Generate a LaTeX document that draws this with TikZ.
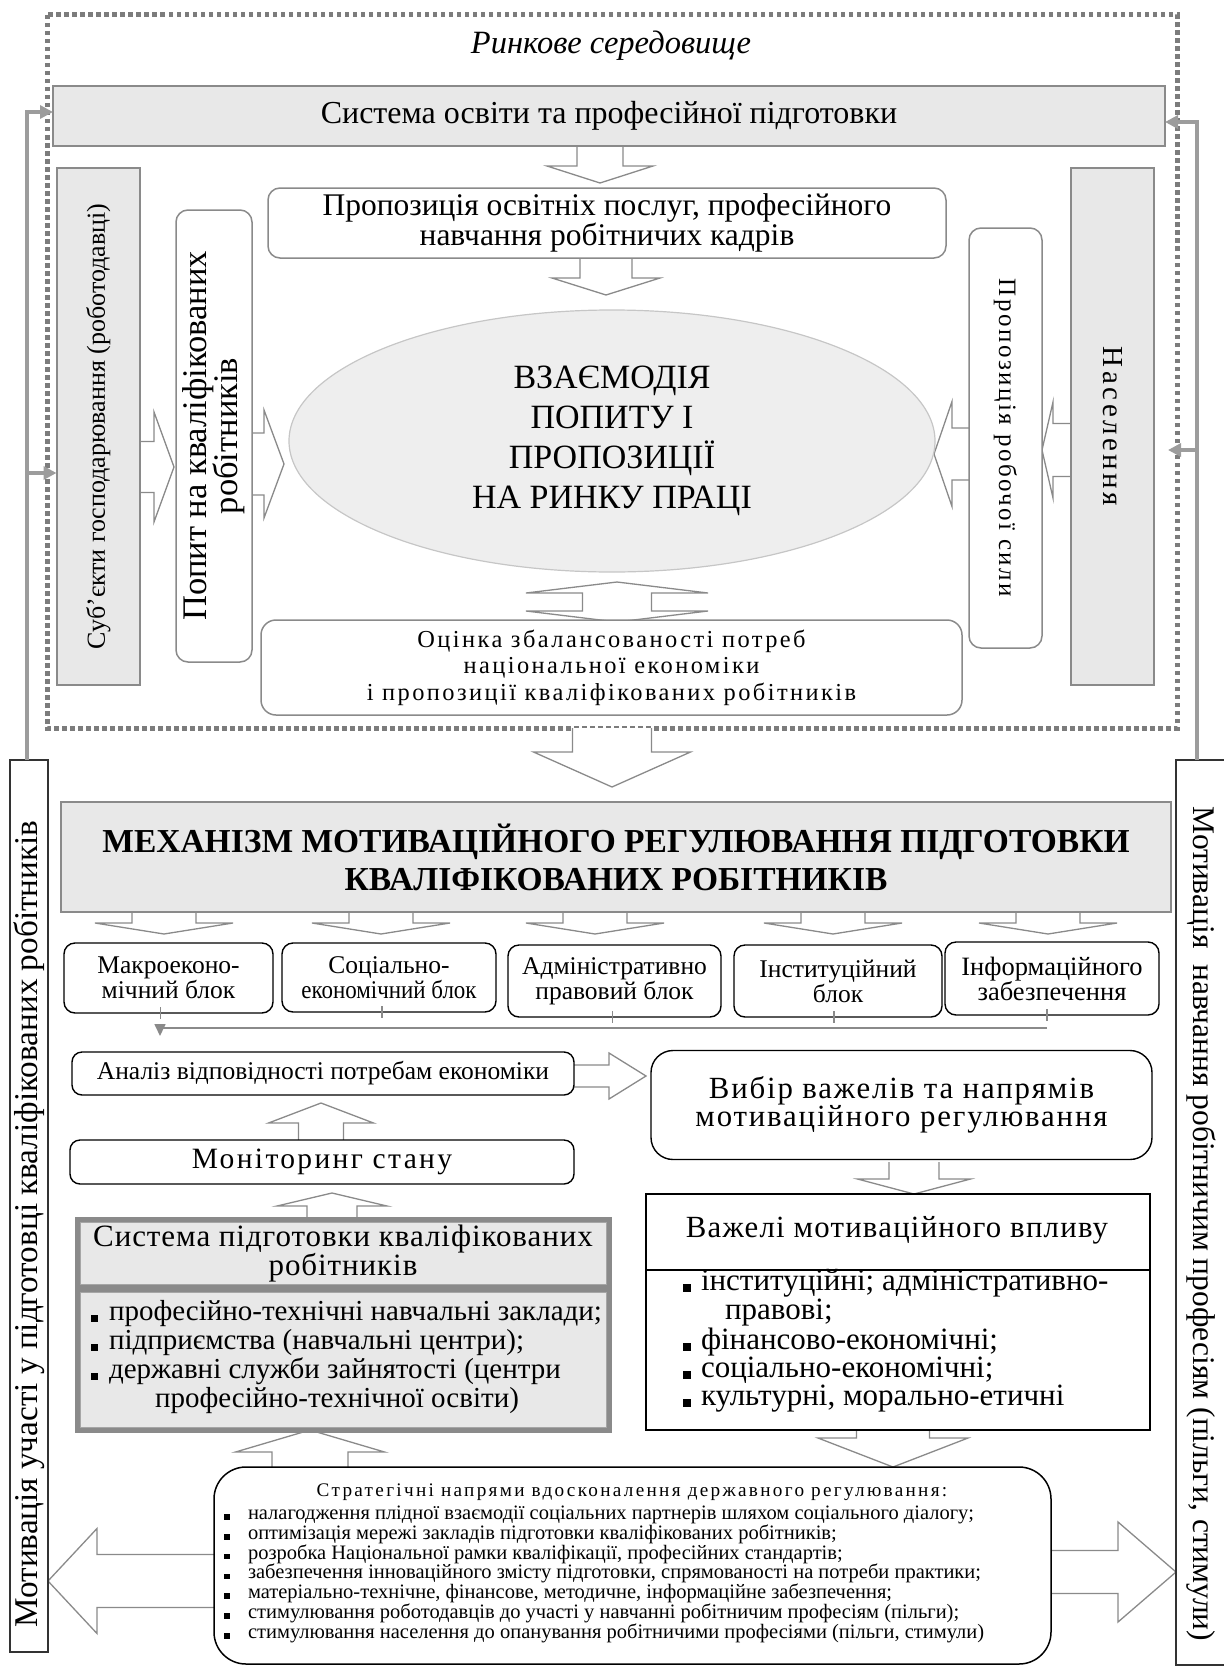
\documentclass[tikz,border=0pt]{standalone}
\usepackage{fontspec}
\setmainfont{Liberation Serif}
\newfontfamily\condfont[FakeStretch=0.9]{Liberation Serif}
\usetikzlibrary{arrows.meta,shapes.geometric,calc}

\definecolor{frameg}{HTML}{8A8A8A}
\definecolor{fillg}{HTML}{E8E8E8}
\definecolor{linkg}{HTML}{9C9C9C}
\definecolor{dotg}{HTML}{7C7C7C}
\definecolor{ellg}{HTML}{EEEEEE}

\newcommand\fsz[2]{\fontsize{#1}{#2}\selectfont\lineskiplimit=-100pt\relax}
\newcommand\lsp[1]{\addfontfeatures{LetterSpace=#1}}

% vertical block arrow: centre x, shaft start y, head base y, tip y, shaft half width, head half width
\newcommand\blockV[6]{%
  \path[hollow] ({#1-#5},#2) -- ({#1-#5},#3) -- ({#1-#6},#3) -- (#1,#4)
    -- ({#1+#6},#3) -- ({#1+#5},#3) -- ({#1+#5},#2);}
% horizontal block arrow: centre y, shaft start x, head base x, tip x, shaft half width, head half width
\newcommand\blockH[6]{%
  \path[hollow] (#2,{#1-#5}) -- (#3,{#1-#5}) -- (#3,{#1-#6}) -- (#4,#1)
    -- (#3,{#1+#6}) -- (#3,{#1+#5}) -- (#2,{#1+#5});}
\newcommand\sqbullet[3]{\fill ({#1-#3},{#2-#3}) rectangle ({#1+#3},{#2+#3});}

\begin{document}
\begin{tikzpicture}[x=1pt,y=-1pt,
  every node/.style={inner sep=0pt, outer sep=0pt},
  hollow/.style={draw=frameg, fill=white, line width=1.3pt, line join=miter},
  graybox/.style={draw=frameg, fill=fillg, line width=2pt},
  roundg/.style={draw=frameg, fill=white, line width=1.5pt, rounded corners=12pt},
  roundk/.style={draw=black, fill=white, line width=1.4pt, rounded corners=11pt},
  link/.style={draw=linkg, line width=3.5pt, line join=miter},
  linktip/.style={-{Triangle[length=13pt,width=13pt]}},
  thinlink/.style={draw=frameg, line width=1.6pt},
  ltext/.style={anchor=west, text height=0.62em, text depth=0.14em}]
\useasboundingbox (0,0) rectangle (1223,1667);

% market environment frame
\draw[dotg, line width=5pt, dash pattern=on 4.5pt off 3.5pt] (47,15) rectangle (1177,728);
\node[font=\fsz{32.5}{34}\itshape] (market) at (611,46) {Ринкове середовище};

% hollow block arrows
\blockV{600}{146}{166}{183}{23}{53}
\blockV{606}{258}{278}{295}{26}{54}
\blockH{467}{140}{154}{174}{25.5}{55}
\blockH{464}{252}{264}{284}{31}{54}
\blockH{454}{969}{952}{934}{26}{52.5}
\blockH{450}{1071}{1053}{1042}{26.5}{48}
\path[hollow] (617,582) -- ({617+91},593) -- ({617+34.5},593) -- ({617+34.5},611)
  -- ({617+91},611) -- (617,622) -- ({617-91},611) -- ({617-34.5},611)
  -- ({617-34.5},593) -- ({617-91},593) -- cycle;
\blockV{612}{728}{752}{787}{39.5}{78.5}
\foreach \cx in {164,381,595,833,1048} {\blockV{\cx}{912}{923}{934}{32}{69}}
\blockH{1076}{574}{609}{646}{11}{23}
\blockV{321}{1140}{1123}{1103}{22.5}{52.5}
\blockV{332}{1217}{1206}{1193}{25}{55}
\blockV{914}{1162}{1179}{1194}{25}{56.5}
\blockV{310}{1467}{1452}{1430}{38}{74.5}
\blockV{893}{1430}{1438}{1467}{36.5}{75}
\blockH{1581}{214}{97}{48}{26.5}{52.5}
\blockH{1572}{1051}{1118}{1176}{21.5}{50}

% upper part: market
\node[graybox, minimum width=1112, minimum height=60, font=\fsz{32}{34}] (sys) at (609,116)
  {Система освіти та професійної підготовки};
\node[graybox, rotate=90, minimum width=517, minimum height=83.5, font=\fsz{26}{28}] (subj) at (98.25,426.5)
  {Суб’єкти господарювання (роботодавці)};
\node[roundg, rotate=90, minimum width=452, minimum height=76, align=center, font=\fsz{34.5}{31}] (dem) at (214,436)
  {Попит на кваліфікованих\\робітників};
\node[roundg, minimum width=678, minimum height=70, align=center, font=\fsz{31.5}{30}] (edu) at (607,223)
  {Пропозиція освітніх послуг, професійного\\навчання робітничих кадрів};
\node[ellipse, draw=gray!45, fill=ellg, line width=1.2pt, minimum width=646, minimum height=262,
  align=center, font=\fsz{34}{40}] (ell) at (612,441)
  {ВЗАЄМОДІЯ\\ПОПИТУ І\\ПРОПОЗИЦІЇ\\НА РИНКУ ПРАЦІ};
\node[roundg, rotate=-90, minimum width=420, minimum height=73, font=\fsz{25}{28}\lsp{10}] (sup) at (1005.5,438)
  {Пропозиція робочої сили};
\node[graybox, rotate=-90, minimum width=517, minimum height=83, font=\fsz{29}{30}\lsp{12}] (pop) at (1112.5,426.5)
  {Населення};
\node[roundg, rounded corners=15pt, minimum width=701, minimum height=95, align=center,
  font=\fsz{24.4}{26.5}\lsp{10}] (bal) at (611.5,667.5)
  {Оцінка збалансованості потреб\\національної економіки\\і пропозиції кваліфікованих робітників};

% mechanism
\node[draw=frameg, fill=fillg, line width=2.5pt, minimum width=1110, minimum height=110, align=center,
  font=\fsz{33.5}{38}\bfseries] (mech) at (616,857)
  {МЕХАНІЗМ МОТИВАЦІЙНОГО РЕГУЛЮВАННЯ ПІДГОТОВКИ\\КВАЛІФІКОВАНИХ РОБІТНИКІВ};

\node[roundk, minimum width=209, minimum height=70, align=center, font=\fsz{25.5}{25}] (b1) at (168.5,978)
  {Макроеконо-\\мічний блок};
\node[roundk, minimum width=214, minimum height=69, align=center, font=\fsz{25.5}{25}] (b2) at (389,977.5)
  {Соціально-\\{\condfont економічний блок}};
\node[roundk, minimum width=213, minimum height=72, align=center, font=\fsz{25.5}{25}] (b3) at (614.5,981)
  {Адміністративно\\правовий блок};
\node[roundk, minimum width=208, minimum height=72, align=center, font=\fsz{25.5}{25}] (b4) at (838,981)
  {Інституційний\\блок};
\node[roundk, minimum width=214, minimum height=73, align=center, font=\fsz{26.5}{25}] (b5) at (1052,978.5)
  {Інформаційного\\забезпечення};

% collecting line under the blocks
\coordinate (h1) at (160,1028);
\coordinate (h5) at (1047,1028);
\foreach \b/\dx in {b1/-8,b2/-7,b3/-2,b4/-4,b5/-5}
  {\draw[thinlink] ($(\b.south)+(\dx,-6)$) -- ++(0,12);}
\draw[thinlink] (h5) -- (h1);
\draw[thinlink, -{Triangle[length=12pt,width=11pt]}] (h1) ++(0,-4) -- ++(0,12);

% left column
\node[roundk, rounded corners=10pt, minimum width=502, minimum height=43, font=\fsz{25.5}{28}] (anal) at (323,1073.5)
  {Аналіз відповідності потребам економіки};
\node[roundk, rounded corners=10pt, minimum width=504, minimum height=44, font=\fsz{29.5}{30}\lsp{8}] (mon) at (322,1162)
  {Моніторинг стану};
\node[draw=frameg, fill=frameg, minimum width=536, minimum height=215] (trn) at (343,1324.5) {};
\node[draw=gray!70, fill=fillg, line width=0.8pt, minimum width=526, minimum height=62, align=center,
  font=\fsz{31}{28.5}\lsp{3}] (trnh) at (343,1253.5)
  {Система підготовки кваліфікованих\\робітників};
\node[draw=gray!70, fill=fillg, line width=0.8pt, minimum width=526, minimum height=135] (trnl) at (343,1359.5) {};
\sqbullet{94}{1318}{3.5}
\node[ltext, font=\fsz{29}{29}] (t1) at (109,1318) {професійно-технічні навчальні заклади;};
\sqbullet{94}{1347}{3.5}
\node[ltext, font=\fsz{29}{29}] (t2) at (109,1347) {підприємства (навчальні центри);};
\sqbullet{94}{1376}{3.5}
\node[ltext, font=\fsz{29}{29}] (t3) at (109,1376) {державні служби зайнятості (центри};
\node[ltext, anchor=center, font=\fsz{29}{29}] (t4) at (337,1405) {професійно-технічної освіти)};

% right column
\node[roundk, rounded corners=22pt, minimum width=501, minimum height=109, align=center,
  font=\fsz{30.8}{28}\lsp{6}] (vyb) at (901.5,1105)
  {Вибір важелів та напрямів\\мотиваційного регулювання};
\node[draw=black, line width=1.6pt, minimum width=504, minimum height=236] (lev) at (898,1312) {};
\coordinate (levdiv) at (0,1270);
\draw[black, line width=1.6pt] (lev.west |- levdiv) -- (lev.east |- levdiv);
\node[font=\fsz{30.8}{30}\lsp{4}] (levt) at (897,1230) {Важелі мотиваційного впливу};
\sqbullet{687}{1288}{4}
\node[ltext, font=\fsz{31}{32}] (l1) at (701,1288) {інституційні; адміністративно-};
\node[ltext, font=\fsz{31}{32}] (l1b) at (725,1317) {правові;};
\sqbullet{687}{1347}{4}
\node[ltext, font=\fsz{31}{32}] (l2) at (701,1347) {фінансово-економічні;};
\sqbullet{687}{1375}{4}
\node[ltext, font=\fsz{31}{32}] (l3) at (701,1375) {соціально-економічні;};
\sqbullet{687}{1403}{4}
\node[ltext, font=\fsz{31}{32}] (l4) at (701,1403) {культурні, морально-етичні};

% strategic directions
\node[draw=black, fill=white, line width=1.5pt, rounded corners=32pt, minimum width=837, minimum height=197] (strat) at (632.5,1565.5) {};
\node[font=\fsz{19.2}{20}\lsp{12}] (stratt) at (632,1492) {Стратегічні напрями вдосконалення державного регулювання:};
\foreach \t [count=\i from 0] in {
  {налагодження плідної взаємодії соціальних партнерів шляхом соціального діалогу;},
  {оптимізація мережі закладів підготовки кваліфікованих робітників;},
  {розробка Національної рамки кваліфікації, професійних стандартів;},
  {забезпечення інноваційного змісту підготовки, спрямованості на потреби практики;},
  {матеріально-технічне, фінансове, методичне, інформаційне забезпечення;},
  {стимулювання роботодавців до участі у навчанні робітничим професіям (пільги);},
  {стимулювання населення до опанування робітничими професіями (пільги, стимули)}} {
  \sqbullet{227}{1517+19.8*\i}{2.8}
  \node[ltext, font=\fsz{20.5}{20}] (s\i) at (248,{1517+19.8*\i}) {\t};
}

% outer motivation boxes
\node[draw=black!80, line width=1.3pt, minimum width=38, minimum height=892] (outl) at (29,1206) {};
\node[rotate=90, font=\fsz{33.2}{33}] (outlt) at (29,1224) {Мотивація участі у підготовці кваліфікованих робітників};
\node[draw=black!80, line width=1.3pt, minimum width=64, minimum height=905] (outr) at (1208,1212.5) {};
\node[rotate=-90, font=\fsz{31.5}{31}] (outrt) at (1201,1224) {Мотивація\ \ навчання робітничим професіям (пільги, стимули)};

% feedback connectors
\coordinate (ly1) at (27,112);
\coordinate (ly2) at (27,473);
\coordinate (ry1) at (1197,122);
\coordinate (ry2) at (1197,450);
\draw[link, linktip] (ly1 |- outl.north) -- (ly1) -- (sys.west |- ly1);
\draw[link, linktip] (ly2) -- (subj.north |- ly2);
\draw[link, linktip] (ry1 |- outr.north) -- (ry1) -- (sys.east |- ry1);
\draw[link, linktip] (ry2) -- ($(pop.north |- ry2)+(14,0)$);
\end{tikzpicture}
\end{document}
